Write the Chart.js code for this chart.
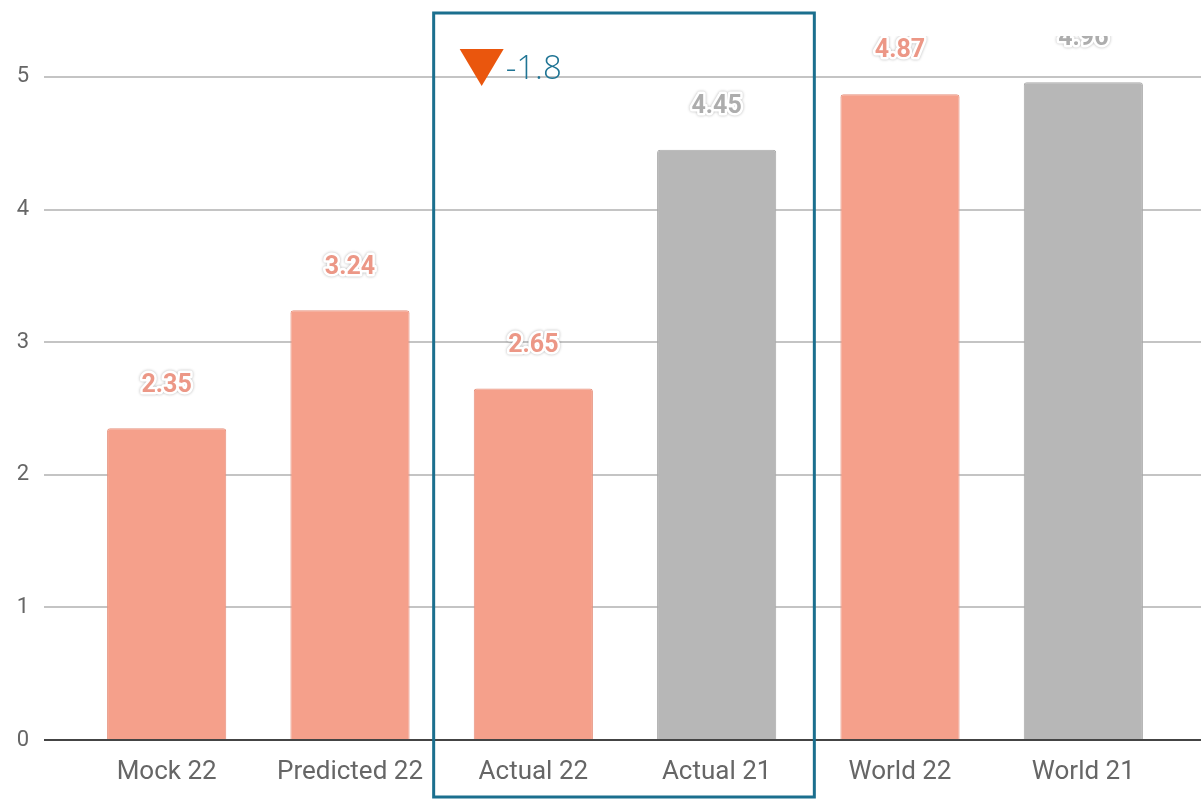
<!DOCTYPE html>
<html>
<head>
<meta charset="utf-8">
<script src="https://cdn.jsdelivr.net/npm/chart.js@4.4.1/dist/chart.umd.min.js"></script>
<style>
  html, body { margin: 0; padding: 0; background: #fff; }
  #wrap { width: 1201px; height: 799px; }
</style>
</head>
<body>
<div id="wrap"><canvas id="score-chart" width="1201" height="799"></canvas></div>
<script>
const categories = ['Mock 22', 'Predicted 22', 'Actual 22', 'Actual 21', 'World 22', 'World 21'];
const scores = [2.35, 3.24, 2.65, 4.45, 4.87, 4.96];
const yTicks = [0, 1, 2, 3, 4, 5];
const compareIdx = [2, 3]; // Actual 22 vs Actual 21

const SALMON = '#f5a08b';
const GRAY = '#b7b7b7';
const is22 = label => label.endsWith('22');

// value labels above each bar, white halo like the original
const valueLabels = {
  id: 'valueLabels',
  afterDatasetsDraw(chart) {
    const ctx = chart.ctx;
    const meta = chart.getDatasetMeta(0);
    ctx.save();
    ctx.beginPath();
    ctx.rect(0, 36, chart.width, chart.height);
    ctx.clip();
    ctx.font = 'bold 25px Roboto';
    ctx.textAlign = 'center';
    ctx.textBaseline = 'middle';
    ctx.lineJoin = 'round';
    meta.data.forEach((bar, i) => {
      const txt = scores[i].toFixed(2);
      const y = bar.y - 43;
      ctx.shadowColor = 'rgba(0,0,0,0.3)';
      ctx.shadowBlur = 3;
      ctx.strokeStyle = '#ffffff';
      ctx.lineWidth = 5;
      ctx.strokeText(txt, bar.x, y);
      ctx.shadowColor = 'transparent';
      ctx.fillStyle = is22(categories[i]) ? '#ec9786' : '#adadad';
      ctx.fillText(txt, bar.x, y);
    });
    ctx.restore();
  }
};

// box around the actual results with the change marker
const compareBox = {
  id: 'compareBox',
  afterDraw(chart) {
    const ctx = chart.ctx;
    const x = chart.scales.x;
    const half = (x.getPixelForValue(1) - x.getPixelForValue(0)) / 2;
    const left = x.getPixelForValue(compareIdx[0]) - half - 8;
    const right = x.getPixelForValue(compareIdx[1]) + half + 6;
    ctx.save();
    ctx.strokeStyle = '#1b6f8e';
    ctx.lineWidth = 3;
    ctx.strokeRect(left, 13, right - left, 784);

    const tx = left + 26;
    ctx.fillStyle = '#ea560d';
    ctx.beginPath();
    ctx.moveTo(tx, 49);
    ctx.lineTo(tx + 44, 49);
    ctx.lineTo(tx + 22, 86);
    ctx.closePath();
    ctx.fill();

    const diff = (scores[compareIdx[0]] - scores[compareIdx[1]]).toFixed(1);
    ctx.fillStyle = '#1f7494';
    ctx.font = '300 33px "Open Sans"';
    ctx.textAlign = 'left';
    ctx.textBaseline = 'alphabetic';
    ctx.fillText(diff, tx + 46, 79);
    ctx.restore();
  }
};

const gridColor = c => (c.tick && c.tick.value === 0 ? '#444444' : '#c4c4c4');
const keepInts = scale => { scale.ticks = scale.ticks.filter(t => yTicks.includes(t.value)); };
const noPad = s => { s.paddingTop = 0; s.paddingBottom = 0; s.paddingLeft = 0; s.paddingRight = 0; };

new Chart(document.getElementById('score-chart').getContext('2d'), {
  type: 'bar',
  data: {
    labels: categories,
    datasets: [{
      data: scores,
      backgroundColor: categories.map(c => is22(c) ? SALMON : GRAY),
      borderColor: categories.map(c => is22(c) ? '#e6937f' : '#a9a9a9'),
      borderWidth: 1,
      borderRadius: 3,
      borderSkipped: 'bottom',
      barPercentage: 0.65,
      categoryPercentage: 1
    }]
  },
  options: {
    responsive: false,
    animation: false,
    layout: { padding: 0 },
    plugins: {
      legend: { display: false },
      tooltip: { enabled: false }
    },
    scales: {
      x: {
        grid: { display: false },
        border: { display: false },
        ticks: { color: '#666666', font: { family: 'Roboto', size: 26 }, padding: 9, maxRotation: 0, autoSkip: false },
        afterFit: s => { s.height = 59; noPad(s); }
      },
      y: {
        min: 0,
        max: 5.58,
        ticks: { stepSize: 1, color: '#666666', font: { family: 'Roboto', size: 22 }, padding: 15 },
        grid: { color: gridColor, lineWidth: 2, tickLength: 31 },
        border: { display: false },
        afterBuildTicks: keepInts,
        afterFit: s => { s.width = 75; noPad(s); }
      },
      y2: {
        position: 'right',
        min: 0,
        max: 5.58,
        ticks: { stepSize: 1, display: false },
        grid: { color: gridColor, lineWidth: 2, tickLength: 26, drawOnChartArea: false },
        border: { display: false },
        afterBuildTicks: keepInts,
        afterFit: s => { s.width = 26; noPad(s); }
      }
    }
  },
  plugins: [valueLabels, compareBox]
});
</script>
</body>
</html>
